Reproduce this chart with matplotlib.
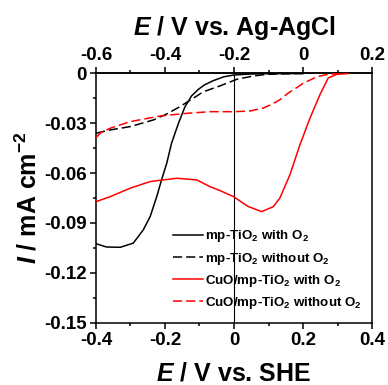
import matplotlib
matplotlib.use("Agg")
import matplotlib.pyplot as plt
from matplotlib.ticker import MultipleLocator, FixedLocator

plt.rcParams['font.family'] = ['Liberation Sans', 'DejaVu Sans']
plt.rcParams['font.weight'] = 'bold'
plt.rcParams['mathtext.fontset'] = 'custom'
plt.rcParams['mathtext.rm'] = 'Liberation Sans:bold'
plt.rcParams['mathtext.it'] = 'Liberation Sans:bold:italic'
plt.rcParams['mathtext.bf'] = 'Liberation Sans:bold'

# potential (V vs. SHE) and current density (mA cm^-2)
tio2_o2_E = [-0.40, -0.37, -0.33, -0.292, -0.263, -0.243, -0.224, -0.21, -0.195, -0.181,
             -0.161, -0.142, -0.123, -0.103, -0.085, -0.06, -0.03, 0.0, 0.05, 0.10, 0.20]
tio2_o2_I = [-0.1025, -0.1045, -0.1047, -0.1022, -0.0942, -0.0862, -0.0742, -0.0641, -0.0541, -0.0420,
             -0.0300, -0.0200, -0.0135, -0.0095, -0.0068, -0.0043, -0.0020, -0.0009, -0.0003, -0.0001, 0.0]

tio2_n2_E = [-0.40, -0.359, -0.301, -0.234, -0.195, -0.157, -0.118, -0.089, -0.041,
             0.008, 0.056, 0.095, 0.15, 0.20]
tio2_n2_I = [-0.0360, -0.0340, -0.0320, -0.0280, -0.0244, -0.0200, -0.0149, -0.0110, -0.0075,
             -0.0035, -0.0015, -0.0005, -0.0002, 0.0]

cuo_o2_E = [-0.40, -0.359, -0.301, -0.243, -0.166, -0.108, -0.070, -0.041, -0.002, 0.04, 0.08,
            0.114, 0.133, 0.162, 0.191, 0.220, 0.249, 0.273, 0.298, 0.332]
cuo_o2_I = [-0.0772, -0.0742, -0.0691, -0.0651, -0.0631, -0.0641, -0.0681, -0.0705, -0.0741, -0.0800, -0.0832,
            -0.0802, -0.0750, -0.0610, -0.0430, -0.0270, -0.0128, -0.0027, -0.0005, 0.0]

cuo_n2_E = [-0.40, -0.385, -0.359, -0.301, -0.214, -0.137, -0.07, 0.0, 0.046, 0.085, 0.11,
            0.133, 0.157, 0.182, 0.201, 0.22, 0.24, 0.26, 0.28, 0.307]
cuo_n2_I = [-0.0385, -0.0355, -0.0330, -0.0290, -0.0256, -0.0240, -0.0230, -0.0230, -0.0226, -0.0208, -0.0185,
            -0.0158, -0.0118, -0.0085, -0.0058, -0.0040, -0.0020, -0.0010, -0.0004, 0.0]

labels = [r'mp-TiO$_2$ with O$_2$', r'mp-TiO$_2$ without O$_2$',
          r'CuO/mp-TiO$_2$ with O$_2$', r'CuO/mp-TiO$_2$ without O$_2$']

yticks = [0, -0.03, -0.06, -0.09, -0.12, -0.15]
ytick_labels = ['0', '-0.03', '-0.06', '-0.09', '-0.12', '-0.15']
xticks = [-0.4, -0.2, 0, 0.2, 0.4]
xtick_labels = ['-0.4', '-0.2', '0', '0.2', '0.4']
top_ticks = [-0.6, -0.4, -0.2, 0, 0.2]
top_tick_labels = ['-0.6', '-0.4', '-0.2', '0', '0.2']

fig = plt.figure(figsize=(3.88, 3.85), dpi=100)
ax = fig.add_axes([0.2474, 0.1623, 0.7114, 0.6468])

lw = 1.1
dash = (6, 2.6)
ax.axvline(0, color='black', lw=0.8, zorder=1)
ax.plot(tio2_o2_E, tio2_o2_I, color='black', lw=lw, label=labels[0], zorder=3)
ax.plot(tio2_n2_E, tio2_n2_I, color='black', lw=lw, dashes=dash, label=labels[1], zorder=3)
ax.plot(cuo_o2_E, cuo_o2_I, color='#ff0000', lw=lw, label=labels[2], zorder=3)
ax.plot(cuo_n2_E, cuo_n2_I, color='#ff0000', lw=lw, dashes=dash, label=labels[3], zorder=3)

tick_font = dict(fontsize=13.5, fontweight='bold')
ax.set_xlim(-0.4, 0.4)
ax.set_ylim(-0.15, 0)
ax.set_xticks(xticks)
ax.set_xticklabels(xtick_labels, **tick_font)
ax.set_yticks(yticks)
ax.set_yticklabels(ytick_labels, **tick_font)
ax.xaxis.set_minor_locator(MultipleLocator(0.1))
ax.yaxis.set_minor_locator(MultipleLocator(0.015))
ax.tick_params(which='both', direction='out', width=1.1, pad=2)
ax.tick_params(which='major', length=4.5)
ax.tick_params(which='minor', length=2.5)
for s in ax.spines.values():
    s.set_linewidth(1.1)

ax.set_xlabel(r'$E$ / V vs. SHE', fontsize=18, fontweight='bold', labelpad=9.5)
ax.set_ylabel(r'$I$ / mA cm$^{-2}$', fontsize=18, fontweight='bold', labelpad=2)

# Ag-AgCl scale on top, offset by 0.2 V from SHE
top = ax.secondary_xaxis('top', functions=(lambda x: x - 0.2, lambda x: x + 0.2))
top.set_xticks(top_ticks)
top.set_xticklabels(top_tick_labels, **tick_font)
top.xaxis.set_minor_locator(FixedLocator([-0.5, -0.3, -0.1, 0.1]))
top.tick_params(which='both', direction='out', width=1.1, pad=2)
top.tick_params(which='major', length=4.5)
top.tick_params(which='minor', length=2.5)
top.spines['top'].set_linewidth(1.1)
top.set_xlabel(r'$E$ / V vs. Ag-AgCl', fontsize=18, fontweight='bold', labelpad=9)

ax.legend(loc='lower left', bbox_to_anchor=(0.278, 0.046), frameon=False,
          prop=dict(size=9.6, weight='bold'),
          handlelength=2.3, handletextpad=0.15, labelspacing=0.47, borderpad=0,
          borderaxespad=0)

fig.savefig('out.png', dpi=100)
